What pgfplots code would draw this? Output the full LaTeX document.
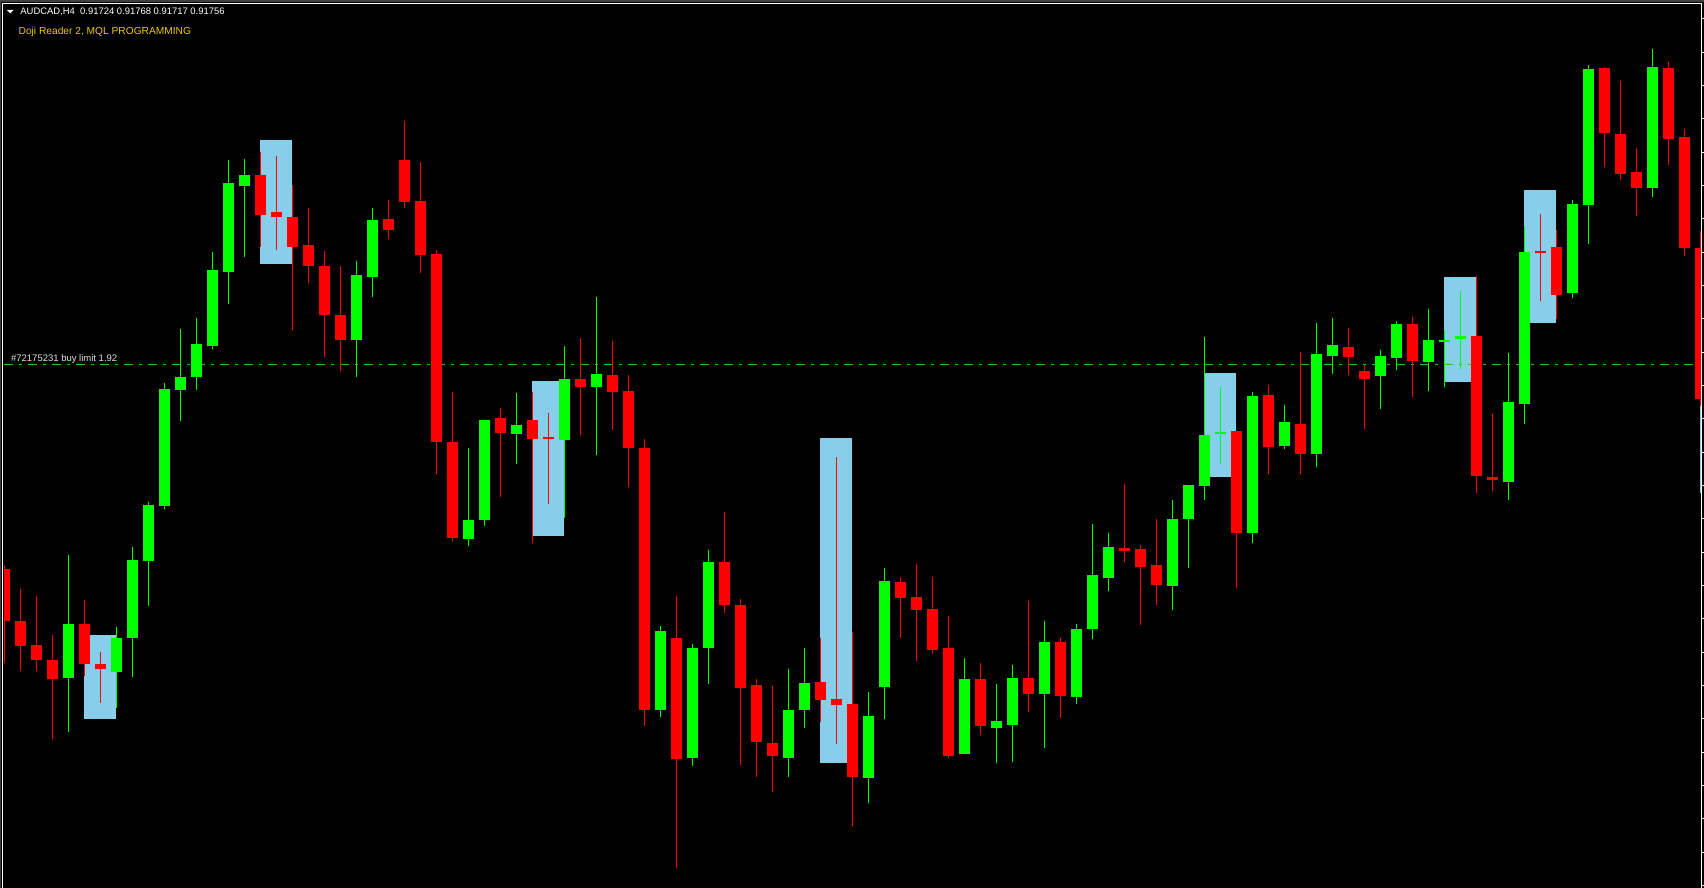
\documentclass[border=0pt]{standalone}
\usepackage{fontspec}
\setmainfont{Liberation Sans}
\usepackage{pgfplots}
\usepackage{pgfplotstable}
\pgfplotsset{compat=1.18}
\definecolor{bull}{RGB}{0,255,0}
\definecolor{bear}{RGB}{255,0,0}
\definecolor{dojibox}{RGB}{135,206,235}
\definecolor{limitgreen}{RGB}{30,200,30}
\definecolor{framegray}{RGB}{64,64,64}
\definecolor{goldtxt}{RGB}{240,200,0}
\definecolor{labeltxt}{RGB}{225,225,225}

% candle index k, open, high, low, close  (screen levels, larger = lower price)
\pgfplotstableread{
k open high low close
0 1005 1000 1170 1097
1 1097 1040 1185 1141
2 1139 1052 1185 1165
3 1165 1121 1305 1199
5 1102 1059 1193 1172
6 1172 1151 1241 1182
16 309 268 436 380
17 374 275 441 384
18 383 327 583 436
19 433 367 500 470
20 470 443 630 556
21 556 470 655 600
24 387 353 422 406
25 283 214 367 357
26 355 286 482 450
27 449 441 837 780
28 780 692 955 950
31 738 720 878 765
33 742 692 959 775
34 772 729 890 776
36 669 597 768 683
38 662 602 759 692
39 690 662 860 791
40 791 775 1282 1254
42 1127 1052 1532 1340
45 992 904 1082 1068
46 1068 1058 1351 1215
47 1210 1199 1372 1310
48 1312 1211 1398 1335
51 1204 1127 1275 1236
52 1234 807 1314 1245
53 1243 1116 1459 1372
56 1028 1019 1127 1056
57 1054 996 1167 1077
58 1075 1019 1153 1148
59 1144 1088 1338 1335
61 1199 1171 1298 1282
64 1197 1061 1257 1225
66 1134 1127 1268 1229
70 967 855 992 973
71 969 962 1104 1001
72 998 916 1068 1033
77 761 761 1038 941
79 697 680 837 789
81 749 622 837 802
84 613 579 662 630
85 655 645 758 669
88 572 560 701 637
92 593 487 871 841
93 842 731 867 847
96 443 378 531 447
97 436 406 564 521
100 120 118 295 235
101 237 143 318 307
102 304 261 381 332
104 120 109 291 245
105 242 228 452 438
106 438 408 717 705
}\bears

\pgfplotstableread{
k open high low close
4 1197 980 1293 1102
7 1187 1107 1250 1127
8 1127 966 1195 989
9 991 886 1070 892
10 893 676 899 687
11 689 581 743 666
12 666 562 689 607
13 611 445 616 477
14 480 283 537 323
15 328 281 454 309
22 600 461 666 486
23 489 367 524 388
29 952 791 964 918
30 918 742 929 742
32 766 694 819 750
35 777 611 915 669
37 683 524 803 660
41 1254 1105 1266 1114
43 1338 1137 1353 1144
44 1144 971 1208 992
49 1338 1181 1372 1254
50 1254 1144 1285 1206
54 1374 1222 1418 1264
55 1213 1003 1270 1026
60 1331 1162 1331 1199
62 1285 1208 1347 1273
63 1280 1174 1346 1197
65 1225 1097 1321 1134
67 1231 1102 1243 1111
68 1111 925 1128 1015
69 1021 941 1044 966
73 1035 883 1077 916
74 916 856 1003 856
75 858 595 883 768
76 767 683 819 762
78 941 692 959 699
80 788 715 793 745
82 802 570 825 625
83 629 562 660 609
86 664 618 722 629
87 632 567 653 572
89 639 546 690 600
90 604 584 683 600
91 599 514 651 593
94 851 623 883 710
95 713 400 749 445
98 517 353 526 360
99 362 115 431 122
103 332 87 348 118
}\bulls

% doji highlight boxes: candle index, top, bottom
\pgfplotstableread{
k top bottom
6 1121 1270
17 247 466
34 673 946
52 773 1347
76 659 842
91 489 675
96 335 570
107 717 870
}\boxes

\begin{document}
\begin{tikzpicture}
\useasboundingbox (0,0) rectangle (852pt,444pt);
\fill[black] (0,0) rectangle (852pt,444pt);
\begin{axis}[
  at={(0pt,0pt)}, anchor=south west,
  width=852pt, height=444pt, scale only axis,
  xmin=-0.26875, xmax=106.23125,
  ymin=0, ymax=1568, y dir=reverse,
  axis lines=none, xtick=\empty, ytick=\empty,
  clip=true,
]
% doji boxes
\addplot[draw=dojibox, line width=16pt, mark=none,
  quiver={u=0, v=\thisrow{bottom}-\thisrow{top}}] table[x=k, y=top] {\boxes};
% buy limit order line
\addplot[limitgreen, line width=0.5pt, mark=none,
  dash pattern=on 4.35pt off 3.15pt on 1.35pt off 3.15pt]
  coordinates {(-0.019,643) (106.04,643)};
% wicks
\addplot[draw=bear, line width=0.6pt, mark=none,
  quiver={u=0, v=\thisrow{low}-\thisrow{high}}] table[x=k, y=high] {\bears};
\addplot[draw=bull, line width=0.6pt, mark=none,
  quiver={u=0, v=\thisrow{low}-\thisrow{high}}] table[x=k, y=high] {\bulls};
% bodies
\addplot[draw=bear, line width=5.5pt, mark=none,
  quiver={u=0, v=\thisrow{close}-\thisrow{open}}] table[x=k, y=open] {\bears};
\addplot[draw=bull, line width=5.5pt, mark=none,
  quiver={u=0, v=\thisrow{close}-\thisrow{open}}] table[x=k, y=open] {\bulls};
\end{axis}
% window frame and labels, in screen pixels from the top-left corner
\begin{scope}[shift={(0pt,444pt)}, x=0.5pt, y=-0.5pt]
  \fill[black] (0,0) rectangle (4,888);
  \fill[black] (1702,0) rectangle (1704,888);
  \fill[black] (0,0) rectangle (1704,3);
  \fill[framegray] (0,0) rectangle (1704,2);
  \fill[framegray] (0,0) rectangle (1,888);
  \draw[white, line width=0.5pt] (2.5,888) -- (2.5,3.5) -- (1701.5,3.5) -- (1701.5,888);
  \foreach \n in {0,...,26} {
    \draw[white, line width=0.5pt] (1702,{19+33.33*\n}) -- (1704,{19+33.33*\n});
  }
  \fill[white] (7,10) -- (13.5,10) -- (10.25,13.5) -- cycle;
  \node[anchor=base west, inner sep=0pt, text=white, font=\fontsize{4.72}{5}\selectfont]
    at (20,15) {AUDCAD,H4\ \ 0.91724 0.91768 0.91717 0.91756};
  \node[anchor=base west, inner sep=0pt, text=goldtxt, font=\fontsize{5.1}{5.6}\selectfont]
    at (18.3,35) {Doji Reader 2, MQL PROGRAMMING};
  \node[anchor=base west, inner sep=0pt, text=labeltxt, font=\fontsize{4.75}{5.2}\selectfont]
    at (10.7,361.7) {\#72175231 buy limit 1.92};
\end{scope}
\end{tikzpicture}
\end{document}
